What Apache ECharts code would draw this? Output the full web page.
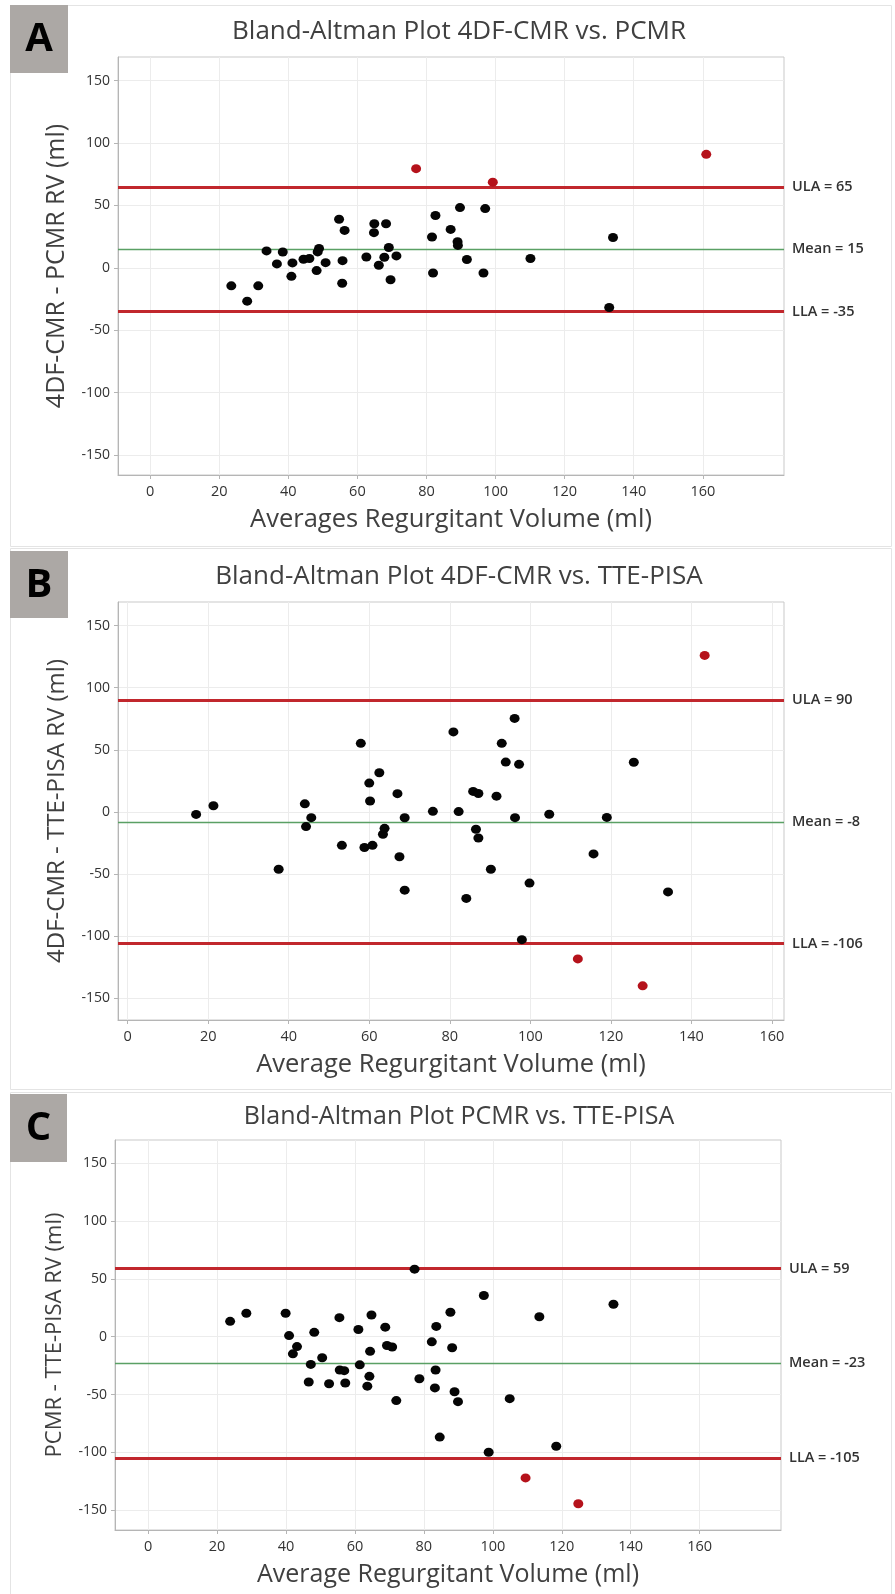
<!DOCTYPE html>
<html>
<head>
<meta charset="utf-8">
<script src="https://cdn.jsdelivr.net/npm/echarts@6/dist/echarts.min.js"></script>
<style>
  html, body { margin: 0; padding: 0; background: #ffffff; }
  #chart { width: 895px; height: 1594px; }
</style>
</head>
<body>
<div id="chart"></div>
<script>
// ---- Panel A: 4DF-CMR vs. PCMR ----
const aAvg  = [23.5, 28.1, 31.3, 33.7, 36.7, 38.4, 40.9, 41.2, 44.4, 46.1, 48.2, 48.9, 48.5, 50.8, 54.7, 55.7, 55.6, 56.3, 62.6, 64.8,
               64.9, 66.2, 67.8, 68.3, 69.1, 69.6, 71.3, 81.6, 81.9, 82.6, 87.0, 89.0, 89.1, 89.7, 91.7, 96.5, 97.0, 110.1, 132.9, 134.0];
const aDiff = [-14.4, -26.7, -14.4, 13.6, 3.2, 12.7, -6.8, 4.0, 6.9, 7.5, -2.2, 15.6, 12.8, 4.2, 39.0, 5.8, -12.3, 30.0, 8.7, 28.2,
               35.4, 2.1, 8.5, 35.4, 16.3, -9.5, 9.6, 24.7, -4.1, 42.0, 30.8, 21.0, 18.0, 48.3, 6.7, -4.1, 47.5, 7.5, -31.8, 24.3];
const aOutAvg  = [77.0, 99.2, 161.0];
const aOutDiff = [79.5, 68.7, 91.0];
const aLimits  = { ula: 65, mean: 15, lla: -35 };

// ---- Panel B: 4DF-CMR vs. TTE-PISA ----
const bAvg  = [17.0, 21.3, 37.5, 44.0, 44.3, 45.6, 53.2, 57.9, 58.8, 60.0, 60.2, 60.8, 62.5, 63.4, 63.8, 67.0, 67.5, 68.8, 68.8, 75.8,
               80.9, 82.2, 84.1, 85.8, 87.1, 86.5, 87.1, 90.2, 91.6, 92.9, 93.9, 96.1, 96.2, 97.2, 97.9, 99.8, 104.7, 115.7, 119.0, 125.7, 134.2];
const bDiff = [-2.0, 5.0, -46.1, 6.5, -11.8, -4.6, -26.9, 55.2, -28.6, 23.2, 8.8, -26.9, 31.5, -18.0, -13.2, 14.7, -36.1, -4.7, -63.0, 0.5,
               64.4, 0.3, -69.6, 16.5, 14.8, -13.9, -21.0, -46.1, 12.7, 55.2, 40.1, 75.3, -4.6, 38.3, -102.8, -57.3, -1.9, -33.8, -4.4, 40.0, -64.4];
const bOutAvg  = [143.3, 111.8, 127.9];
const bOutDiff = [126.0, -118.3, -140.0];
const bLimits  = { ula: 90, mean: -8, lla: -106 };

// ---- Panel C: PCMR vs. TTE-PISA ----
const cAvg  = [23.8, 28.5, 39.9, 40.9, 43.2, 42.0, 48.2, 47.2, 46.6, 50.5, 52.5, 55.5, 55.6, 56.9, 57.2, 61.0, 61.4, 63.6, 64.2, 64.4, 64.8,
               68.8, 69.3, 70.8, 72.0, 77.3, 78.7, 82.3, 83.4, 83.2, 83.6, 84.6, 87.7, 88.2, 88.9, 89.9, 97.4, 98.8, 104.9, 113.5, 118.4, 135.0];
const cDiff = [13.3, 20.3, 20.3, 1.0, -8.5, -14.8, 3.8, -23.9, -39.1, -18.2, -40.6, 16.5, -28.7, -29.3, -40.0, 6.3, -24.3, -42.7, -34.2, -12.6, 18.8,
               8.3, -7.6, -8.9, -55.2, 58.4, -36.3, -4.4, -28.7, -44.2, 8.9, -86.7, 21.2, -9.5, -47.5, -56.1, 35.6, -99.8, -53.5, 17.3, -94.6, 28.1];
const cOutAvg  = [109.5, 124.8];
const cOutDiff = [-122.0, -144.3];
const cLimits  = { ula: 59, mean: -23, lla: -105 };

// Tick labels shown on the axes
const xTickLabels = [0, 20, 40, 60, 80, 100, 120, 140, 160];
const yTickLabels = [-150, -100, -50, 0, 50, 100, 150];

const panelTitles = [
  'Bland-Altman Plot 4DF-CMR vs. PCMR',
  'Bland-Altman Plot 4DF-CMR vs. TTE-PISA',
  'Bland-Altman Plot PCMR vs. TTE-PISA'
];
const xNames = ['Averages Regurgitant Volume (ml)', 'Average Regurgitant Volume (ml)', 'Average Regurgitant Volume (ml)'];
const yNames = ['4DF-CMR - PCMR RV (ml)', '4DF-CMR - TTE-PISA RV (ml)', 'PCMR - TTE-PISA RV (ml)'];
const panelLetters = ['A', 'B', 'C'];

// ---- layout ----
const FONT = '"Open Sans", "Noto Sans", sans-serif';
const TEXT = '#333333';
const panels = [
  { grid: { left: 118, top: 57,   width: 666, height: 418 }, x: [-9.3, 183.5], y: [-166, 169],   xSplit: 10,
    titleY: 19,   titleSize: 26, xNameSize: 25.5, yNameSize: 25, frame: [10, 5, 881, 541],    box: [10, 5, 58, 68] },
  { grid: { left: 118, top: 602,  width: 666, height: 418 }, x: [-2.4, 163.0], y: [-167.5, 169], xSplit: 8,
    titleY: 564,  titleSize: 26, xNameSize: 25.5, yNameSize: 24, frame: [10, 548, 881, 541],  box: [10, 551, 58, 67] },
  { grid: { left: 115, top: 1140, width: 666, height: 390 }, x: [-9.6, 183.6], y: [-167, 170],   xSplit: 10,
    titleY: 1104, titleSize: 25, xNameSize: 25,   yNameSize: 22, frame: [10, 1092, 881, 510], box: [10, 1094, 57, 68] }
];

const zip = (xs, ys) => xs.map((v, i) => [v, ys[i]]);
const sets = [
  { pts: zip(aAvg, aDiff), out: zip(aOutAvg, aOutDiff), lim: aLimits },
  { pts: zip(bAvg, bDiff), out: zip(bOutAvg, bOutDiff), lim: bLimits },
  { pts: zip(cAvg, cDiff), out: zip(cOutAvg, cOutDiff), lim: cLimits }
];

const option = {
  animation: false,
  backgroundColor: '#ffffff',
  title: panelTitles.map((t, i) => ({
    text: t,
    left: 459,
    top: panels[i].titleY,
    textAlign: 'center',
    padding: 0,
    textStyle: { fontFamily: FONT, fontSize: panels[i].titleSize, fontWeight: 'normal', color: '#404040' }
  })),
  grid: panels.map(p => Object.assign({ show: true, borderColor: '#c9c9c9', borderWidth: 1, backgroundColor: '#ffffff', containLabel: false }, p.grid)),
  xAxis: panels.map((p, i) => ({
    type: 'value', gridIndex: i, min: p.x[0], max: p.x[1], splitNumber: p.xSplit,
    name: xNames[i], nameLocation: 'middle', nameGap: 32,
    nameTextStyle: { fontFamily: FONT, fontSize: p.xNameSize, color: '#404040' },
    axisLine: { show: true, onZero: false, lineStyle: { color: '#b5b5b5' } },
    axisTick: { show: true, length: 4, lineStyle: { color: '#b5b5b5' }, customValues: xTickLabels },
    axisLabel: { margin: 9, fontFamily: FONT, fontSize: 14.5, color: TEXT, customValues: xTickLabels },
    splitLine: { show: true, lineStyle: { color: '#ececec', width: 1 } }
  })),
  yAxis: panels.map((p, i) => ({
    type: 'value', gridIndex: i, min: p.y[0], max: p.y[1], splitNumber: 7,
    name: yNames[i], nameLocation: 'middle', nameGap: 49,
    nameTextStyle: { fontFamily: FONT, fontSize: p.yNameSize, color: '#404040' },
    axisLine: { show: true, onZero: false, lineStyle: { color: '#b5b5b5' } },
    axisTick: { show: true, length: 4, lineStyle: { color: '#b5b5b5' }, customValues: yTickLabels },
    axisLabel: { margin: 8, fontFamily: FONT, fontSize: 14, color: TEXT, customValues: yTickLabels },
    splitLine: { show: true, lineStyle: { color: '#ececec', width: 1 } }
  })),
  series: [],
  graphic: []
};

const red = '#c1272d', green = '#5aa064';
sets.forEach((s, i) => {
  const lim = s.lim;
  option.series.push({
    type: 'scatter', xAxisIndex: i, yAxisIndex: i, data: s.pts,
    symbol: 'circle', symbolSize: [10, 9], itemStyle: { color: '#050505', opacity: 1 }, z: 5,
    markLine: {
      silent: true, symbol: 'none', animation: false,
      label: { show: true, position: 'end', distance: 8, fontFamily: FONT, fontSize: 14.5, fontWeight: 600, color: '#333333' },
      data: [
        { yAxis: lim.ula,  lineStyle: { color: red, width: 3, type: 'solid', opacity: 1 },     label: { formatter: 'ULA = ' + lim.ula } },
        { yAxis: lim.mean, lineStyle: { color: green, width: 1.3, type: 'solid', opacity: 1 }, label: { formatter: 'Mean = ' + lim.mean } },
        { yAxis: lim.lla,  lineStyle: { color: red, width: 3, type: 'solid', opacity: 1 },     label: { formatter: 'LLA = ' + lim.lla } }
      ]
    }
  });
  option.series.push({
    type: 'scatter', xAxisIndex: i, yAxisIndex: i, data: s.out,
    symbol: 'circle', symbolSize: [10, 9], itemStyle: { color: '#b5121b', opacity: 1 }, z: 6
  });

  const f = panels[i].frame, b = panels[i].box;
  option.graphic.push({
    type: 'rect', z: -10, silent: true,
    shape: { x: f[0] + 0.5, y: f[1] + 0.5, width: f[2], height: f[3] },
    style: { fill: 'none', stroke: '#e4e4e4', lineWidth: 1 }
  });
  option.graphic.push({
    type: 'rect', z: 10, silent: true,
    shape: { x: b[0], y: b[1], width: b[2], height: b[3] },
    style: { fill: '#aca8a5' }
  });
  option.graphic.push({
    type: 'text', z: 11, silent: true,
    x: b[0] + b[2] / 2, y: b[1] + b[3] / 2 + 1,
    style: { text: panelLetters[i], fontFamily: FONT, fontSize: 40, fontWeight: 'bold', fill: '#000000', align: 'center', verticalAlign: 'middle' }
  });
});

const chart = echarts.init(document.getElementById('chart'), null, { renderer: 'canvas', width: 895, height: 1594 });
chart.setOption(option);
</script>
</body>
</html>
